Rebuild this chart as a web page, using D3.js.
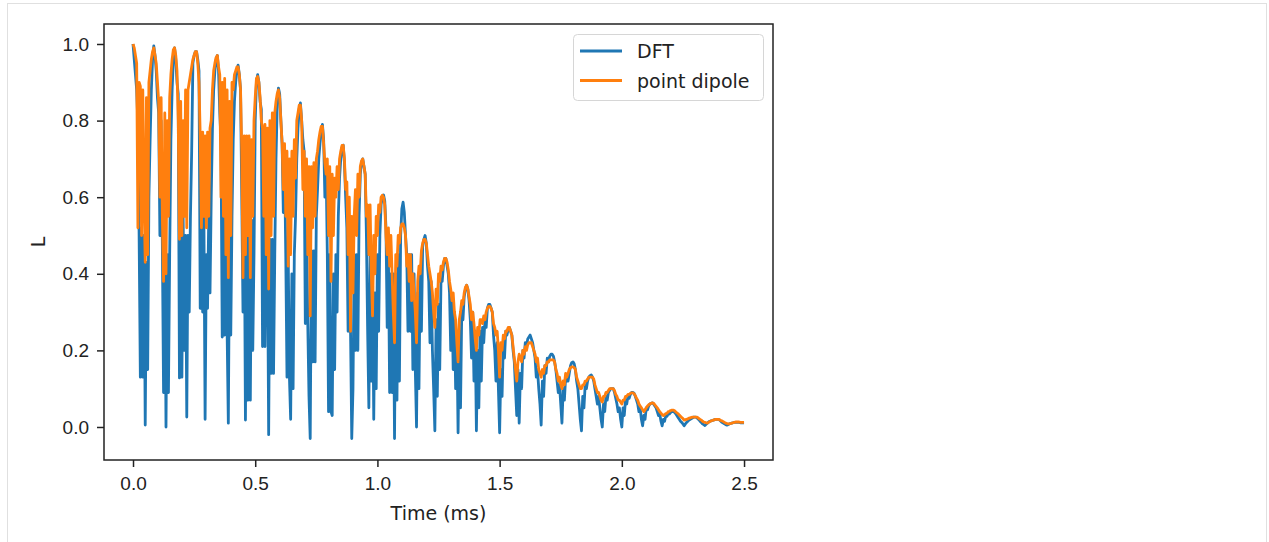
<!DOCTYPE html>
<html>
<head>
<meta charset="utf-8">
<style>
  body { margin: 0; background: #fff; }
  svg { font-family: 'DejaVu Sans', sans-serif; }
  .tick text { font-size: 19px; fill: #222; }
  .tick line { stroke: #222; stroke-width: 1.5px; }
  .domain { display: none; }
</style>
</head>
<body>
<svg width="1269" height="542"></svg>
<script src="https://d3js.org/d3.v7.min.js"></script>
<script>
// both curves sampled every 0.005 ms from 0 to 2.5 ms (one row per oscillation)
const t0 = 0;
const dt = 0.005;

// L for the DFT couplings
const dft = [
  1.00, 0.96, 0.92, 0.88, 0.79, 0.50, 0.13, 0.52, 0.13, 0.50, 0.005, 0.43, 0.15, 0.60, 0.75, 0.88, 0.96,
  0.995, 0.97, 0.93, 0.86, 0.82, 0.50, 0.80, 0.48, 0.09, 0.50, 0.00, 0.45, 0.09, 0.45, 0.75, 0.88, 0.96,
  0.99, 0.96, 0.90, 0.87, 0.128, 0.55, 0.13, 0.55, 0.20, 0.50, 0.026, 0.50, 0.30, 0.55, 0.72, 0.95, 0.97, 0.98,
  0.98, 0.96, 0.93, 0.31, 0.56, 0.30, 0.55, 0.02, 0.45, 0.31, 0.56, 0.35, 0.60, 0.78, 0.88, 0.93, 0.96,
  0.97, 0.93, 0.82, 0.75, 0.235, 0.60, 0.24, 0.55, 0.25, 0.01, 0.50, 0.24, 0.55, 0.75, 0.85, 0.90, 0.93,
  0.945, 0.92, 0.88, 0.60, 0.30, 0.60, 0.018, 0.50, 0.07, 0.55, 0.07, 0.54, 0.20, 0.45, 0.80, 0.90,
  0.92, 0.90, 0.85, 0.83, 0.21, 0.55, 0.21, 0.55, 0.50, -0.02, 0.49, 0.14, 0.49, 0.14, 0.45, 0.70, 0.84,
  0.885, 0.87, 0.80, 0.74, 0.56, 0.70, 0.45, 0.13, 0.45, 0.13, 0.02, 0.40, 0.10, 0.45, 0.55, 0.70, 0.78, 0.83,
  0.846, 0.80, 0.75, 0.72, 0.27, 0.55, 0.27, 0.08, -0.03, 0.46, 0.17, 0.46, 0.17, 0.55, 0.62, 0.70, 0.74, 0.77,
  0.79, 0.75, 0.60, 0.68, 0.45, 0.04, 0.45, 0.04, 0.03, 0.40, 0.15, 0.45, 0.30, 0.55, 0.65, 0.70, 0.73,
  0.736, 0.69, 0.60, 0.52, 0.25, 0.52, 0.25, -0.03, 0.10, 0.45, 0.20, 0.45, 0.20, 0.55, 0.66, 0.69,
  0.70, 0.68, 0.66, 0.50, 0.25, 0.05, 0.45, 0.12, 0.40, 0.02, 0.35, 0.10, 0.45, 0.25, 0.50, 0.58, 0.60,
  0.606, 0.59, 0.52, 0.26, 0.45, 0.09, 0.40, 0.09, 0.40, -0.03, 0.40, 0.07, 0.45, 0.12, 0.50, 0.57,
  0.587, 0.56, 0.50, 0.45, 0.25, 0.45, 0.25, 0.45, 0.15, 0.40, 0.15, 0.00, 0.35, 0.10, 0.40, 0.25, 0.47, 0.49,
  0.50, 0.48, 0.42, 0.38, 0.22, 0.38, 0.20, 0.10, -0.01, 0.28, 0.08, 0.32, 0.15, 0.38, 0.38, 0.42, 0.44,
  0.44, 0.42, 0.40, 0.35, 0.20, 0.33, 0.15, 0.30, 0.10, 0.25, -0.015, 0.25, 0.05, 0.30, 0.28, 0.34, 0.36,
  0.37, 0.36, 0.33, 0.28, 0.18, 0.30, 0.12, 0.25, -0.01, 0.20, 0.05, 0.25, 0.12, 0.26, 0.22, 0.28, 0.26, 0.31, 0.32,
  0.32, 0.31, 0.30, 0.24, 0.20, 0.12, 0.22, 0.10, -0.015, 0.15, 0.08, 0.22, 0.18, 0.25, 0.24, 0.255,
  0.26, 0.25, 0.24, 0.20, 0.17, 0.10, 0.03, 0.15, 0.01, 0.14, 0.10, 0.20, 0.18, 0.22, 0.21, 0.23, 0.235,
  0.24, 0.23, 0.22, 0.20, 0.18, 0.13, 0.15, 0.10, 0.06, 0.005, 0.12, 0.08, 0.16, 0.14, 0.18, 0.17, 0.185, 0.19,
  0.19, 0.185, 0.17, 0.15, 0.12, 0.09, 0.11, 0.06, 0.01, 0.10, 0.07, 0.13, 0.12, 0.12, 0.14, 0.16, 0.168,
  0.17, 0.165, 0.15, 0.12, 0.10, 0.06, 0.02, -0.01, 0.08, 0.05, 0.11, 0.10, 0.12, 0.13, 0.134,
  0.136, 0.13, 0.12, 0.10, 0.08, 0.06, 0.08, 0.05, 0.02, 0.00, 0.06, 0.04, 0.08, 0.07, 0.09, 0.095, 0.10,
  0.10, 0.10, 0.09, 0.075, 0.06, 0.04, 0.05, 0.02, 0.00, 0.05, 0.03, 0.07, 0.06, 0.08, 0.075, 0.085, 0.09,
  0.09, 0.088, 0.08, 0.07, 0.06, 0.04, 0.05, 0.02, 0.003, 0.03, 0.02, 0.05, 0.045, 0.055, 0.06, 0.062,
  0.063, 0.06, 0.055, 0.05, 0.04, 0.03, 0.035, 0.015, 0.003, 0.02, 0.015, 0.03, 0.028, 0.035, 0.034, 0.038, 0.04,
  0.04, 0.039, 0.035, 0.03, 0.025, 0.02, 0.015, 0.012, 0.008, 0.003, 0.008, 0.012, 0.015, 0.018, 0.02, 0.022, 0.024, 0.026,
  0.026, 0.025, 0.022, 0.019, 0.015, 0.012, 0.008, 0.006, 0.004, 0.007, 0.01, 0.013, 0.015, 0.016, 0.017, 0.018, 0.019, 0.02,
  0.02, 0.02, 0.018, 0.015, 0.012, 0.01, 0.008, 0.006, 0.005, 0.006, 0.008, 0.009, 0.01, 0.011, 0.012, 0.012, 0.012, 0.012, 0.012, 0.011, 0.011, 0.011, 0.011
];

// L for the point dipole model
const pointDipole = [
  1.00, 0.99, 0.97, 0.95, 0.52, 0.90, 0.89, 0.50, 0.88, 0.60, 0.43, 0.86, 0.45, 0.90, 0.93, 0.96, 0.98,
  0.99, 0.97, 0.95, 0.90, 0.85, 0.60, 0.86, 0.55, 0.38, 0.82, 0.40, 0.80, 0.55, 0.86, 0.92, 0.96, 0.985,
  0.99, 0.97, 0.93, 0.80, 0.49, 0.85, 0.50, 0.80, 0.55, 0.88, 0.52, 0.88, 0.90, 0.92, 0.94, 0.96, 0.97, 0.98,
  0.98, 0.95, 0.90, 0.76, 0.52, 0.77, 0.55, 0.76, 0.52, 0.77, 0.55, 0.78, 0.80, 0.88, 0.93, 0.95, 0.965,
  0.97, 0.94, 0.92, 0.60, 0.90, 0.55, 0.91, 0.45, 0.88, 0.39, 0.85, 0.50, 0.90, 0.88, 0.92, 0.93, 0.94,
  0.94, 0.92, 0.88, 0.72, 0.39, 0.76, 0.45, 0.76, 0.50, 0.76, 0.39, 0.75, 0.55, 0.80, 0.86, 0.91,
  0.915, 0.90, 0.86, 0.80, 0.78, 0.55, 0.79, 0.45, 0.78, 0.36, 0.80, 0.50, 0.82, 0.55, 0.82, 0.85, 0.87,
  0.88, 0.86, 0.80, 0.74, 0.62, 0.74, 0.55, 0.72, 0.42, 0.70, 0.45, 0.72, 0.55, 0.75, 0.65, 0.80, 0.82, 0.84,
  0.84, 0.80, 0.62, 0.72, 0.55, 0.70, 0.45, 0.68, 0.29, 0.68, 0.52, 0.69, 0.55, 0.70, 0.72, 0.75, 0.77, 0.785,
  0.785, 0.74, 0.69, 0.66, 0.70, 0.50, 0.68, 0.38, 0.66, 0.50, 0.65, 0.60, 0.68, 0.62, 0.70, 0.72, 0.735,
  0.735, 0.70, 0.62, 0.64, 0.45, 0.60, 0.25, 0.55, 0.35, 0.55, 0.62, 0.50, 0.66, 0.60, 0.68, 0.695,
  0.70, 0.68, 0.66, 0.55, 0.58, 0.45, 0.58, 0.40, 0.29, 0.50, 0.40, 0.55, 0.50, 0.58, 0.56, 0.60, 0.605,
  0.60, 0.58, 0.50, 0.45, 0.52, 0.42, 0.50, 0.40, 0.30, 0.22, 0.45, 0.42, 0.50, 0.48, 0.52, 0.53,
  0.53, 0.52, 0.50, 0.42, 0.45, 0.38, 0.45, 0.33, 0.40, 0.35, 0.30, 0.22, 0.38, 0.42, 0.40, 0.46, 0.48, 0.49,
  0.49, 0.48, 0.45, 0.42, 0.40, 0.38, 0.35, 0.30, 0.26, 0.36, 0.32, 0.40, 0.38, 0.42, 0.41, 0.43, 0.44,
  0.44, 0.43, 0.41, 0.38, 0.36, 0.33, 0.35, 0.30, 0.28, 0.22, 0.17, 0.28, 0.30, 0.33, 0.32, 0.35, 0.365,
  0.37, 0.36, 0.34, 0.32, 0.28, 0.30, 0.27, 0.23, 0.20, 0.26, 0.24, 0.28, 0.28, 0.27, 0.29, 0.28, 0.30, 0.31, 0.315,
  0.315, 0.31, 0.30, 0.27, 0.26, 0.24, 0.25, 0.20, 0.13, 0.22, 0.20, 0.24, 0.23, 0.25, 0.25, 0.26,
  0.26, 0.25, 0.24, 0.21, 0.18, 0.15, 0.12, 0.17, 0.19, 0.18, 0.17, 0.20, 0.19, 0.21, 0.20, 0.215, 0.22,
  0.22, 0.22, 0.21, 0.20, 0.19, 0.17, 0.18, 0.15, 0.14, 0.13, 0.15, 0.14, 0.16, 0.16, 0.17, 0.17, 0.175, 0.175,
  0.175, 0.175, 0.17, 0.15, 0.14, 0.12, 0.13, 0.11, 0.10, 0.12, 0.11, 0.14, 0.13, 0.14, 0.15, 0.155, 0.157,
  0.157, 0.155, 0.15, 0.13, 0.12, 0.11, 0.10, 0.10, 0.11, 0.11, 0.12, 0.12, 0.125, 0.13, 0.13,
  0.13, 0.13, 0.125, 0.11, 0.10, 0.09, 0.09, 0.08, 0.07, 0.065, 0.08, 0.08, 0.09, 0.09, 0.095, 0.10, 0.10,
  0.10, 0.10, 0.095, 0.085, 0.08, 0.07, 0.07, 0.065, 0.06, 0.07, 0.07, 0.08, 0.08, 0.085, 0.085, 0.088, 0.089,
  0.089, 0.087, 0.082, 0.075, 0.07, 0.06, 0.055, 0.05, 0.045, 0.04, 0.045, 0.05, 0.055, 0.058, 0.06, 0.062,
  0.063, 0.062, 0.058, 0.054, 0.05, 0.045, 0.04, 0.036, 0.032, 0.03, 0.032, 0.035, 0.036, 0.04, 0.041, 0.043, 0.044,
  0.044, 0.043, 0.04, 0.037, 0.035, 0.031, 0.028, 0.025, 0.022, 0.018, 0.019, 0.02, 0.021, 0.023, 0.024, 0.025, 0.026, 0.026,
  0.026, 0.026, 0.025, 0.022, 0.02, 0.018, 0.015, 0.013, 0.012, 0.011, 0.01, 0.012, 0.014, 0.016, 0.017, 0.018, 0.019, 0.02,
  0.02, 0.02, 0.019, 0.017, 0.016, 0.014, 0.012, 0.01, 0.009, 0.008, 0.008, 0.009, 0.01, 0.011, 0.012, 0.013, 0.013, 0.013, 0.013, 0.012, 0.012, 0.012, 0.012
];

const xTicks = [0.0, 0.5, 1.0, 1.5, 2.0, 2.5];
const yTicks = [0.0, 0.2, 0.4, 0.6, 0.8, 1.0];
const seriesNames = ["DFT", "point dipole"];
const colors = ["#1f77b4", "#ff7f0e"];

const svg = d3.select("svg");

// plot frame in page pixels
const plotL = 104, plotR = 773, plotT = 24, plotB = 460;

const x = d3.scaleLinear().domain([-0.1187, 2.6185]).range([plotL, plotR]);
const y = d3.scaleLinear().domain([-0.0862, 1.0522]).range([plotB, plotT]);

// notebook output border
svg.append("rect")
  .attr("x", 7.5).attr("y", 3.5)
  .attr("width", 1259).attr("height", 600)
  .style("fill", "none")
  .style("stroke", "#e0e0e0");

svg.append("clipPath").attr("id", "plot-clip")
  .append("rect")
  .attr("x", plotL).attr("y", plotT)
  .attr("width", plotR - plotL).attr("height", plotB - plotT);

const times = d3.range(dft.length).map(i => t0 + i * dt);

const line = d3.line()
  .x((d, i) => x(times[i]))
  .y(d => y(d));

const plot = svg.append("g").attr("clip-path", "url(#plot-clip)");

[dft, pointDipole].forEach((values, k) => {
  plot.append("path")
    .attr("d", line(values))
    .style("fill", "none")
    .style("stroke", colors[k])
    .style("stroke-width", 2.8)
    .style("stroke-linejoin", "round");
});

// axes
svg.append("g")
  .attr("transform", `translate(0,${plotB})`)
  .call(d3.axisBottom(x).tickValues(xTicks).tickFormat(d3.format(".1f"))
    .tickSize(7).tickPadding(9))
  .selectAll(".tick text").attr("dy", "0.75em");

svg.append("g")
  .attr("transform", `translate(${plotL},0)`)
  .call(d3.axisLeft(y).tickValues(yTicks).tickFormat(d3.format(".1f"))
    .tickSize(7).tickPadding(8));

svg.append("rect")
  .attr("x", plotL).attr("y", plotT)
  .attr("width", plotR - plotL).attr("height", plotB - plotT)
  .style("fill", "none")
  .style("stroke", "#222")
  .style("stroke-width", 1.5);

// axis labels
svg.append("text")
  .attr("x", (plotL + plotR) / 2).attr("y", 520)
  .attr("text-anchor", "middle")
  .style("font-size", "19px").style("fill", "#222")
  .text("Time (ms)");

svg.append("text")
  .attr("transform", `translate(45,${(plotT + plotB) / 2}) rotate(-90)`)
  .attr("text-anchor", "middle")
  .style("font-size", "19px").style("fill", "#222")
  .text("L");

// legend
const legend = svg.append("g");
legend.append("rect")
  .attr("x", 573.5).attr("y", 34.5)
  .attr("width", 190).attr("height", 66)
  .attr("rx", 4)
  .style("fill", "white").style("fill-opacity", 0.8)
  .style("stroke", "#d6d6d6");

seriesNames.forEach((name, k) => {
  const ly = 51 + k * 29.5;
  legend.append("line")
    .attr("x1", 580).attr("x2", 622)
    .attr("y1", ly).attr("y2", ly)
    .style("stroke", colors[k])
    .style("stroke-width", 2.9);
  legend.append("text")
    .attr("x", 637).attr("y", ly + 7)
    .style("font-size", "19px").style("fill", "#222")
    .text(name);
});
</script>
</body>
</html>
